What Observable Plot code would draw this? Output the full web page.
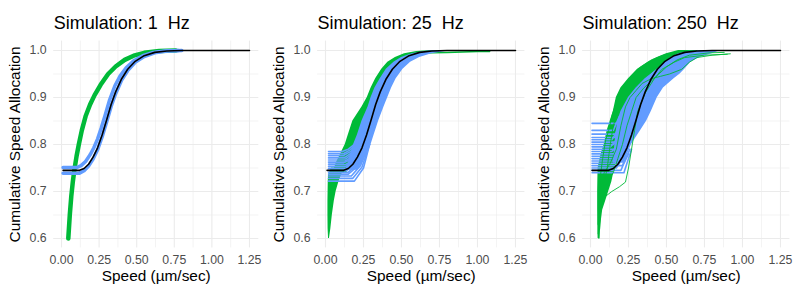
<!DOCTYPE html>
<html>
<head>
<meta charset="utf-8">
<script src="https://cdn.jsdelivr.net/npm/d3@7"></script>
<script src="https://cdn.jsdelivr.net/npm/@observablehq/plot@0.6"></script>
<style>
  html, body { margin: 0; padding: 0; background: #fff; }
  #root { position: relative; width: 802px; height: 292px; font-family: "Liberation Sans", Arial, sans-serif; overflow: hidden; }
  .title { position: absolute; top: 12.5px; font-size: 18px; line-height: 20px; color: #000; white-space: pre; }
  .chart { position: absolute; top: 36px; }
</style>
</head>
<body>
<div id="root"></div>
<script>
// ---------- ticks ----------
const xMajor = [0, 0.25, 0.5, 0.75, 1.0, 1.25];
const xMinor = [0.125, 0.375, 0.625, 0.875, 1.125];
const yMajor = [0.6, 0.7, 0.8, 0.9, 1.0];
const yMinor = [0.65, 0.75, 0.85, 0.95];
const titles = ["Simulation: 1  Hz", "Simulation: 25  Hz", "Simulation: 250  Hz"];
const xTitle = "Speed (µm/sec)";
const yTitle = "Cumulative Speed Allocation";

// ---------- theoretical (black) curve, same in each panel ----------
const blackX = [0.01,0.12,0.15,0.18,0.21,0.24,0.27,0.30,0.33,0.36,0.40,0.44,0.49,0.55,0.62,0.70,0.80,1.25];
const blackY = [0.745,0.745,0.749,0.758,0.773,0.793,0.82,0.852,0.885,0.912,0.94,0.96,0.977,0.989,0.996,0.999,1.0,1.0];

// ---------- 1 Hz ----------
const hz1GreenX = [0.045,0.055,0.065,0.075,0.085,0.10,0.115,0.135,0.16,0.19,0.22,0.26,0.31,0.36,0.42,0.48,0.55,0.65,0.76];
const hz1GreenY = [0.60,0.65,0.69,0.72,0.745,0.775,0.80,0.83,0.86,0.885,0.905,0.927,0.950,0.966,0.980,0.989,0.995,0.999,1.0];
const hz1BlueUpperX = [0.01,0.10,0.13,0.16,0.19,0.215,0.24,0.265,0.29,0.32,0.355,0.39,0.43,0.48,0.54,0.61,0.69,0.78];
const hz1BlueUpperY = [0.751,0.751,0.755,0.764,0.778,0.793,0.812,0.836,0.862,0.895,0.925,0.946,0.963,0.978,0.989,0.996,0.999,1.0];
const hz1BlueLowerX = [0.01,0.12,0.15,0.18,0.21,0.24,0.27,0.30,0.33,0.36,0.40,0.44,0.49,0.55,0.62,0.70,0.80];
const hz1BlueLowerY = [0.739,0.739,0.744,0.754,0.769,0.789,0.816,0.848,0.881,0.908,0.937,0.957,0.975,0.987,0.995,0.999,1.0];

// ---------- 25 Hz ----------
const hz25GreenWedgeY  = [0.60, 0.62, 0.65, 0.68, 0.70, 0.72, 0.735, 0.75];
const hz25GreenWedgeX1 = [0.02, 0.017,0.016,0.016,0.017,0.018,0.02, 0.04];
const hz25GreenWedgeX2 = [0.026,0.035,0.045,0.058,0.07, 0.088,0.105,0.13];
const hz25GreenBandY  = [0.74, 0.76, 0.78, 0.80, 0.82, 0.85, 0.88, 0.90, 0.92, 0.94, 0.96, 0.975, 0.985, 0.993, 0.998, 1.0];
const hz25GreenBandX1 = [0.05, 0.07, 0.10, 0.13, 0.15, 0.18, 0.24, 0.275,0.30, 0.33, 0.37, 0.41, 0.46, 0.52, 0.60, 0.70];
const hz25GreenBandX2 = [0.14, 0.17, 0.20, 0.22, 0.24, 0.27, 0.30, 0.32, 0.35, 0.39, 0.44, 0.49, 0.55, 0.63, 0.72, 0.82];
const hz25GreenTail = [[0.60,0.993],[0.70,0.995],[0.80,0.996],[0.90,0.997],[1.0,0.998],[1.08,0.998]];
const hz25BlueBandY  = [0.745,0.76, 0.78, 0.80, 0.82, 0.85, 0.88, 0.90, 0.92, 0.94, 0.96, 0.975,0.985,0.993,0.998,1.0];
const hz25BlueBandX1 = [0.13, 0.15, 0.165,0.185,0.21, 0.24, 0.28, 0.30, 0.325,0.36, 0.40, 0.45, 0.50, 0.57, 0.65, 0.72];
const hz25BlueBandX2 = [0.21, 0.24, 0.27, 0.30, 0.32, 0.35, 0.385,0.41, 0.435,0.465,0.51, 0.56, 0.62, 0.70, 0.79, 0.87];
const hz25BlueFlats = [
  [[0.02,0.785],[0.11,0.785],[0.15,0.79],[0.19,0.80]],
  [[0.02,0.781],[0.12,0.781],[0.16,0.788],[0.20,0.80]],
  [[0.02,0.777],[0.12,0.777],[0.17,0.786],[0.21,0.80]],
  [[0.02,0.773],[0.13,0.773],[0.18,0.784],[0.22,0.80]],
  [[0.02,0.769],[0.13,0.769],[0.18,0.78],[0.23,0.80]],
  [[0.02,0.765],[0.13,0.765],[0.19,0.777],[0.24,0.80]],
  [[0.02,0.761],[0.12,0.761],[0.19,0.772],[0.25,0.80]],
  [[0.02,0.757],[0.13,0.757],[0.20,0.77],[0.25,0.80]],
  [[0.02,0.753],[0.13,0.753],[0.20,0.766],[0.26,0.80]],
  [[0.02,0.749],[0.14,0.749],[0.21,0.765],[0.27,0.80]],
  [[0.02,0.745],[0.14,0.745],[0.21,0.762],[0.27,0.80]],
  [[0.02,0.741],[0.15,0.741],[0.22,0.76],[0.28,0.80]],
  [[0.02,0.737],[0.15,0.737],[0.22,0.756],[0.28,0.80]],
  [[0.02,0.733],[0.17,0.733],[0.23,0.755],[0.29,0.80]],
  [[0.02,0.728],[0.18,0.728],[0.24,0.752],[0.29,0.80]],
  [[0.02,0.722],[0.19,0.722],[0.25,0.75],[0.29,0.80]]
];

// ---------- 250 Hz ----------
const hz250GreenWedgeY  = [0.60, 0.63, 0.66, 0.68, 0.70, 0.72, 0.75];
const hz250GreenWedgeX1 = [0.05, 0.048,0.047,0.047,0.047,0.048,0.05];
const hz250GreenWedgeX2 = [0.062,0.068,0.08, 0.10, 0.12, 0.14, 0.16];
const hz250GreenBandY  = [0.75, 0.78, 0.80, 0.83, 0.85, 0.87, 0.90, 0.92, 0.94, 0.96, 0.975, 0.985, 0.993, 1.0];
const hz250GreenBandX1 = [0.05, 0.07, 0.09, 0.11, 0.13, 0.15, 0.17, 0.20, 0.25, 0.31, 0.38, 0.44, 0.50, 0.58];
const hz250GreenBandX2 = [0.16, 0.18, 0.19, 0.21, 0.22, 0.24, 0.27, 0.31, 0.37, 0.44, 0.50, 0.56, 0.63, 0.70];
const hz250GreenTraces = [
  [[0.055,0.60],[0.06,0.66],[0.07,0.70],[0.09,0.72],[0.11,0.75],[0.13,0.80],[0.15,0.84],[0.17,0.86],[0.18,0.89],[0.21,0.91],[0.24,0.93],[0.28,0.95],[0.33,0.965],[0.40,0.98],[0.48,0.99],[0.55,0.995],[0.62,1.0]],
  [[0.06,0.62],[0.07,0.68],[0.10,0.69],[0.14,0.70],[0.19,0.71],[0.23,0.72],[0.25,0.75],[0.27,0.79],[0.29,0.83],[0.31,0.87],[0.36,0.91],[0.42,0.94],[0.47,0.96],[0.55,0.975],[0.62,0.985],[0.75,0.99],[0.90,0.992]],
  [[0.05,0.63],[0.06,0.72],[0.08,0.77],[0.10,0.81],[0.12,0.83],[0.14,0.86],[0.16,0.88],[0.19,0.90],[0.22,0.92],[0.27,0.94],[0.32,0.955],[0.38,0.97],[0.45,0.985],[0.52,0.993],[0.60,0.998],[0.70,1.0]],
  [[0.05,0.61],[0.065,0.70],[0.09,0.74],[0.13,0.76],[0.17,0.79],[0.20,0.84],[0.23,0.88],[0.26,0.90],[0.30,0.915],[0.34,0.93],[0.40,0.94],[0.46,0.945],[0.52,0.95],[0.60,0.96],[0.65,0.975],[0.70,0.985],[0.80,0.99],[0.92,0.993]],
  [[0.06,0.64],[0.08,0.70],[0.11,0.72],[0.15,0.74],[0.18,0.77],[0.21,0.80],[0.24,0.84],[0.27,0.87],[0.30,0.90],[0.35,0.92],[0.40,0.935],[0.45,0.95],[0.50,0.965],[0.57,0.98],[0.65,0.99],[0.78,0.995],[0.88,0.996]]
];
const hz250BlueBandY  = [0.76, 0.80, 0.83, 0.85, 0.87, 0.90, 0.92, 0.94, 0.95, 0.96, 0.975, 0.985, 0.993, 0.998, 1.0];
const hz250BlueBandX1 = [0.15, 0.16, 0.17, 0.18, 0.20, 0.25, 0.30, 0.36, 0.40, 0.44, 0.49, 0.53, 0.58, 0.64, 0.72];
const hz250BlueBandX2 = [0.22, 0.27, 0.33, 0.37, 0.40, 0.44, 0.48, 0.55, 0.59, 0.62, 0.66, 0.72, 0.80, 0.84, 0.86];
const hz250BlueFlats = [
  [[0.01,0.845],[0.17,0.845],[0.19,0.86],[0.22,0.87]],
  [[0.01,0.830],[0.15,0.830],[0.17,0.845],[0.20,0.855]],
  [[0.01,0.822],[0.20,0.822],[0.22,0.84],[0.24,0.86]],
  [[0.01,0.815],[0.16,0.815],[0.18,0.83],[0.21,0.845]],
  [[0.01,0.810],[0.14,0.810],[0.16,0.82],[0.19,0.84]],
  [[0.01,0.805],[0.18,0.805],[0.20,0.82],[0.23,0.84]],
  [[0.01,0.800],[0.15,0.800],[0.17,0.81],[0.20,0.83]],
  [[0.01,0.795],[0.13,0.795],[0.16,0.805],[0.19,0.82]],
  [[0.01,0.790],[0.17,0.790],[0.19,0.80],[0.22,0.82]],
  [[0.01,0.785],[0.14,0.785],[0.17,0.795],[0.20,0.81]],
  [[0.01,0.780],[0.19,0.780],[0.21,0.79],[0.24,0.81]],
  [[0.01,0.775],[0.16,0.775],[0.18,0.785],[0.21,0.80]],
  [[0.01,0.770],[0.20,0.770],[0.22,0.78],[0.25,0.80]],
  [[0.01,0.765],[0.15,0.765],[0.18,0.775],[0.21,0.79]],
  [[0.01,0.760],[0.18,0.760],[0.20,0.77],[0.23,0.79]],
  [[0.01,0.755],[0.21,0.755],[0.23,0.77],[0.26,0.79]],
  [[0.01,0.750],[0.17,0.750],[0.19,0.76],[0.22,0.78]],
  [[0.01,0.745],[0.20,0.745],[0.22,0.76],[0.25,0.78]],
  [[0.01,0.740],[0.22,0.740],[0.24,0.76],[0.27,0.79]]
];

// ---------- drawing ----------
const GREEN = "#00BA38", BLUE = "#619CFF", GRID = "#EBEBEB", TICK = "#4D4D4D";
const lineOf = (traces, stroke, strokeWidth) =>
  traces.map(t => Plot.line(t, {x: d => d[0], y: d => d[1], stroke, strokeWidth}));
const band = (ys, x1, x2, fill) => Plot.areaX(ys, {y: ys, x1, x2, fill, fillOpacity: 1});
const black = () => Plot.line(blackX, {x: blackX, y: blackY, stroke: "#000", strokeWidth: 1.6});

const panels = [
  {left: 0, marginLeft: 53.2, marginRight: 8.7, marks: [
    Plot.line(hz1GreenX, {x: hz1GreenX, y: hz1GreenY, stroke: GREEN, strokeWidth: 4.5}),
    Plot.line(hz1BlueUpperX, {x: hz1BlueUpperX, y: hz1BlueUpperY, stroke: BLUE, strokeWidth: 3.5}),
    Plot.line(hz1BlueLowerX, {x: hz1BlueLowerX, y: hz1BlueLowerY, stroke: BLUE, strokeWidth: 3.5}),
    black()
  ]},
  {left: 267, marginLeft: 50.1, marginRight: 9.6, marks: [
    band(hz25GreenWedgeY, hz25GreenWedgeX1, hz25GreenWedgeX2, GREEN),
    band(hz25GreenBandY, hz25GreenBandX1, hz25GreenBandX2, GREEN),
    ...lineOf([hz25GreenTail], GREEN, 1.5),
    band(hz25BlueBandY, hz25BlueBandX1, hz25BlueBandX2, BLUE),
    ...lineOf(hz25BlueFlats, BLUE, 1.6),
    black()
  ]},
  {left: 535, marginLeft: 47.1, marginRight: 12.6, marks: [
    band(hz250GreenWedgeY, hz250GreenWedgeX1, hz250GreenWedgeX2, GREEN),
    band(hz250GreenBandY, hz250GreenBandX1, hz250GreenBandX2, GREEN),
    band(hz250BlueBandY, hz250BlueBandX1, hz250BlueBandX2, BLUE),
    ...lineOf(hz250BlueFlats, BLUE, 1.6),
    ...lineOf(hz250GreenTraces, GREEN, 0.9),
    black()
  ]}
];

const root = document.getElementById("root");
panels.forEach((p, i) => {
  const t = document.createElement("div");
  t.className = "title";
  t.style.left = (p.left + p.marginLeft + 0.5) + "px";
  t.textContent = titles[i];
  root.appendChild(t);

  const svg = Plot.plot({
    width: 267, height: 256,
    marginLeft: p.marginLeft, marginRight: p.marginRight,
    marginTop: 4.6, marginBottom: 44.6,
    x: {domain: [-0.052, 1.312]},
    y: {domain: [0.58, 1.02]},
    style: {fontFamily: "'Liberation Sans', Arial, sans-serif", background: "transparent", overflow: "visible"},
    marks: [
      Plot.gridX(xMinor, {stroke: GRID, strokeOpacity: 1, strokeWidth: 0.6}),
      Plot.gridY(yMinor, {stroke: GRID, strokeOpacity: 1, strokeWidth: 0.6}),
      Plot.gridX(xMajor, {stroke: GRID, strokeOpacity: 1, strokeWidth: 1.1}),
      Plot.gridY(yMajor, {stroke: GRID, strokeOpacity: 1, strokeWidth: 1.1}),
      ...p.marks,
      Plot.axisX(xMajor, {tickSize: 0, tickPadding: 7, tickFormat: d3.format(".2f"), fontSize: 12.3, fill: TICK, label: null}),
      Plot.axisY(yMajor, {tickSize: 0, tickPadding: 7, tickFormat: d3.format(".1f"), fontSize: 12.3, fill: TICK, label: null}),
      Plot.text([xTitle], {frameAnchor: "bottom", lineAnchor: "top", dy: 22.5, fontSize: 15.4, fill: "#000"}),
      Plot.text([yTitle], {frameAnchor: "left", textAnchor: "middle", lineAnchor: "middle", rotate: -90, dx: -39, fontSize: 15.4, fill: "#000"})
    ]
  });
  const wrap = document.createElement("div");
  wrap.className = "chart";
  wrap.style.left = p.left + "px";
  wrap.appendChild(svg);
  root.appendChild(wrap);
});
</script>
</body>
</html>
